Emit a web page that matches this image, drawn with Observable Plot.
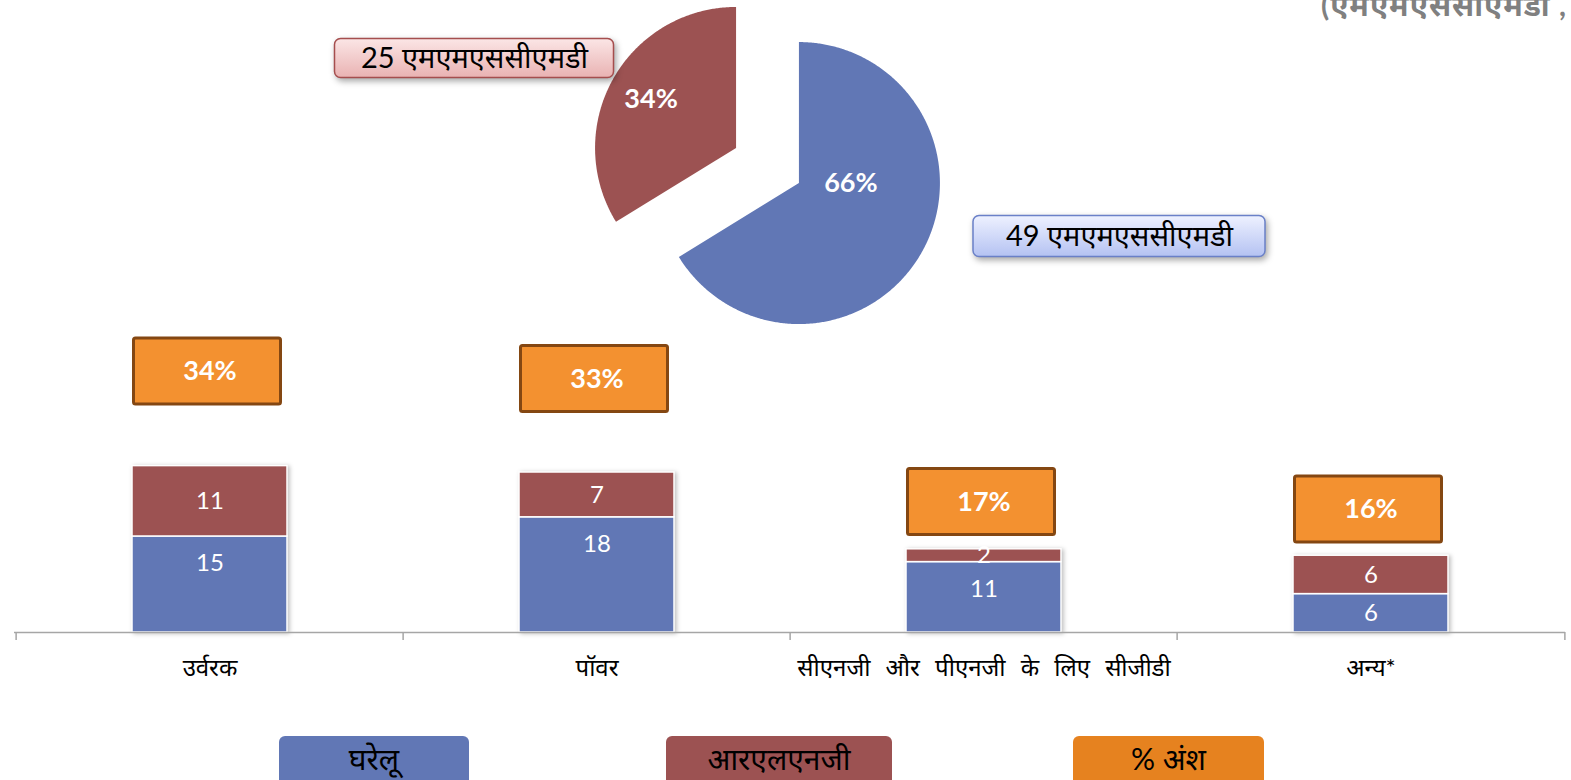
<!DOCTYPE html>
<html>
<head>
<meta charset="utf-8">
<script src="https://cdn.jsdelivr.net/npm/d3@7"></script>
<script src="https://cdn.jsdelivr.net/npm/@observablehq/plot@0.6"></script>
<style>
  html, body { margin: 0; padding: 0; background: #fff; overflow: hidden; }
  #wrap { position: relative; width: 1571px; height: 780px; overflow: hidden; font-family: "Lato", "Noto Sans Devanagari", "Lohit Devanagari", "Noto Sans", sans-serif; }
  #wrap svg { position: absolute; left: 0; background: transparent; }
  .unit { position: absolute; right: 4px; top: -14px; font-size: 30px; font-weight: bold; color: #808080; white-space: nowrap; letter-spacing: 1px; }
  .leg { position: absolute; top: 736px; height: 50px; border-radius: 6px; color: #000; font-size: 30px; text-align: center; line-height: 44px; }
</style>
</head>
<body>
<div id="wrap"></div>
<script>
// ---- data ----
const categories = ["उर्वरक", "पॉवर", "सीएनजी और पीएनजी के लिए सीजीडी", "अन्य*"];
const domestic = [15, 18, 11, 6];
const rlng = [11, 7, 2, 6];
const sharePct = [34, 33, 17, 16];
const seriesNames = ["घरेलू", "आरएलएनजी", "% अंश"];
const pieValues = [49, 25];
const piePct = [66, 34];
const pieLabels = ["49 एमएमएससीएमडी", "25 एमएमएससीएमडी"];
const unitText = "(एमएमएससीएमडी ,";

// ---- style ----
const BLUE = "#6177b5", RED = "#9c5252", ORANGE = "#f39130", BROWN = "#844712", LEGORANGE = "#e6821f";
const FONT = "Lato, 'Noto Sans Devanagari', 'Lohit Devanagari', 'Noto Sans', sans-serif";
const wrap = document.getElementById("wrap");

// ================= PIE =================
const PW = 1571, PH = 330;
const pcx = 767, pcy = 165, PR = 141, explode = 36;
const pieColors = [BLUE, RED];
const arcs = d3.pie().sort(null).value(d => d)(pieValues);
const piePts = [];
arcs.forEach((a, i) => {
  const mid = (a.startAngle + a.endAngle) / 2;
  const ox = pcx + explode * Math.sin(mid), oy = pcy - explode * Math.cos(mid);
  piePts.push({s: i, x: ox, y: oy});
  const n = Math.ceil((a.endAngle - a.startAngle) / (Math.PI / 360));
  for (let k = 0; k <= n; k++) {
    const t = a.startAngle + (a.endAngle - a.startAngle) * k / n;
    piePts.push({s: i, x: ox + PR * Math.sin(t), y: oy - PR * Math.cos(t)});
  }
  piePts.push({s: i, x: ox, y: oy});
});
// label offsets (layout) relative to each exploded slice centre
const pctLabelOffset = [[52, 0], [-85, -49]];
const pctLabels = arcs.map((a, i) => {
  const mid = (a.startAngle + a.endAngle) / 2;
  return {
    t: piePct[i] + "%",
    x: pcx + explode * Math.sin(mid) + pctLabelOffset[i][0],
    y: pcy - explode * Math.cos(mid) + pctLabelOffset[i][1]
  };
});
const callouts = [
  {t: pieLabels[0], cx: 1119, cy: 236, w: 292, h: 41, fill: "url(#gBlue)", stroke: "#6a80c8"},
  {t: pieLabels[1], cx: 474, cy: 58, w: 279, h: 39, fill: "url(#gPink)", stroke: "#a54e4e"}
];

const pie = Plot.plot({
  width: PW, height: PH,
  margin: 0,
  x: {domain: [0, PW], range: [0, PW], axis: null},
  y: {domain: [0, PH], range: [0, PH], axis: null},
  style: {background: "transparent", fontFamily: FONT},
  marks: [
    Plot.line(piePts, {x: "x", y: "y", z: "s", fill: d => pieColors[d.s], stroke: "none", curve: "linear"}),
    Plot.text(pctLabels, {x: "x", y: "y", text: "t", fill: "white", fontSize: 27, fontWeight: "bold"}),
    Plot.rect(callouts, {x1: d => d.cx - d.w / 2, x2: d => d.cx + d.w / 2, y1: d => d.cy - d.h / 2, y2: d => d.cy + d.h / 2,
      fill: "fill", stroke: "stroke", strokeWidth: 1.5, rx: 6, className: "callout"}),
    Plot.text(callouts, {x: "cx", y: "cy", text: "t", fill: "black", fontSize: 29})
  ]
});
pie.style.top = "0px";
const defs = d3.select(pie).insert("defs", ":first-child");
const gp = defs.append("linearGradient").attr("id", "gPink").attr("x1", 0).attr("y1", 0).attr("x2", 0).attr("y2", 1);
gp.append("stop").attr("offset", "0%").attr("stop-color", "#fbe6e6");
gp.append("stop").attr("offset", "100%").attr("stop-color", "#e9b2b2");
const gb = defs.append("linearGradient").attr("id", "gBlue").attr("x1", 0).attr("y1", 0).attr("x2", 0).attr("y2", 1);
gb.append("stop").attr("offset", "0%").attr("stop-color", "#eef1ff");
gb.append("stop").attr("offset", "100%").attr("stop-color", "#b4c2f2");
d3.select(pie).selectAll(".callout").style("filter", "drop-shadow(2px 3px 3px rgba(0,0,0,0.35))");
wrap.appendChild(pie);

// ================= BARS =================
const BW = 1571, BH = 370, mL = 14, mR = 6, mT = 14, mB = 68;
const rows = [];
categories.forEach((c, i) => {
  rows.push({cat: c, series: seriesNames[0], value: domestic[i]});
  rows.push({cat: c, series: seriesNames[1], value: rlng[i]});
});
const pxPerUnit = (BH - mT - mB) / 45;
const insideEnd = 27 / pxPerUnit;
const segLabels = [];
categories.forEach((c, i) => {
  segLabels.push({cat: c, t: String(domestic[i]), y: Math.max(domestic[i] / 2, domestic[i] - insideEnd)});
  segLabels.push({cat: c, t: String(rlng[i]), y: domestic[i] + rlng[i] / 2});
});
const secRatio = 1.2; // secondary (% share) axis → primary axis units
const boxHalf = 33 / pxPerUnit;
const shareRows = categories.map((c, i) => ({cat: c, p: sharePct[i], y: sharePct[i] * secRatio}));
const step = (BW - mL - mR) / categories.length;
const tickLen = 8 / pxPerUnit;

const bars = Plot.plot({
  width: BW, height: BH,
  marginLeft: mL, marginRight: mR, marginTop: mT, marginBottom: mB,
  x: {domain: categories, paddingInner: 0.6, paddingOuter: 0.3, tickSize: 0, tickPadding: 26, label: null},
  y: {domain: [0, 45], axis: null},
  color: {domain: seriesNames.slice(0, 2), range: [BLUE, RED]},
  style: {background: "transparent", fontFamily: FONT, fontSize: "24px", color: "black", wordSpacing: "9px"},
  marks: [
    Plot.barY(rows, {x: "cat", y: "value", fill: "series", stroke: "white", strokeWidth: 1.5, className: "stackbar"}),
    Plot.text(segLabels, {x: "cat", y: "y", text: "t", fill: "white", fontSize: 24}),
    Plot.ruleY([0], {stroke: "#a6a6a6", strokeWidth: 1.5}),
    Plot.ruleX(categories, {x: d => d, dx: -step / 2, y1: 0, y2: -tickLen, stroke: "#a6a6a6", strokeWidth: 1.5}),
    Plot.ruleX(categories.slice(-1), {x: d => d, dx: step / 2, y1: 0, y2: -tickLen, stroke: "#a6a6a6", strokeWidth: 1.5}),
    Plot.barY(shareRows, {x: "cat", y1: d => d.y - boxHalf, y2: d => d.y + boxHalf, fill: ORANGE, stroke: BROWN, strokeWidth: 3, insetLeft: 1.5, insetRight: 6.5, rx: 2}),
    Plot.text(shareRows, {x: "cat", y: "y", text: d => d.p + "%", fill: "white", fontSize: 27, fontWeight: "bold"})
  ]
});
bars.style.top = "330px";
d3.select(bars).selectAll(".stackbar").style("filter", "drop-shadow(2px 1px 2px rgba(0,0,0,0.25))");
wrap.appendChild(bars);

// ================= LEGEND & UNIT =================
const unit = document.createElement("div");
unit.className = "unit";
unit.textContent = unitText;
wrap.appendChild(unit);

const legPos = [[279, 190, BLUE], [666, 226, RED], [1073, 191, LEGORANGE]];
seriesNames.forEach((s, i) => {
  const d = document.createElement("div");
  d.className = "leg";
  d.style.left = legPos[i][0] + "px";
  d.style.width = legPos[i][1] + "px";
  d.style.background = legPos[i][2];
  d.textContent = s;
  wrap.appendChild(d);
});
</script>
</body>
</html>
